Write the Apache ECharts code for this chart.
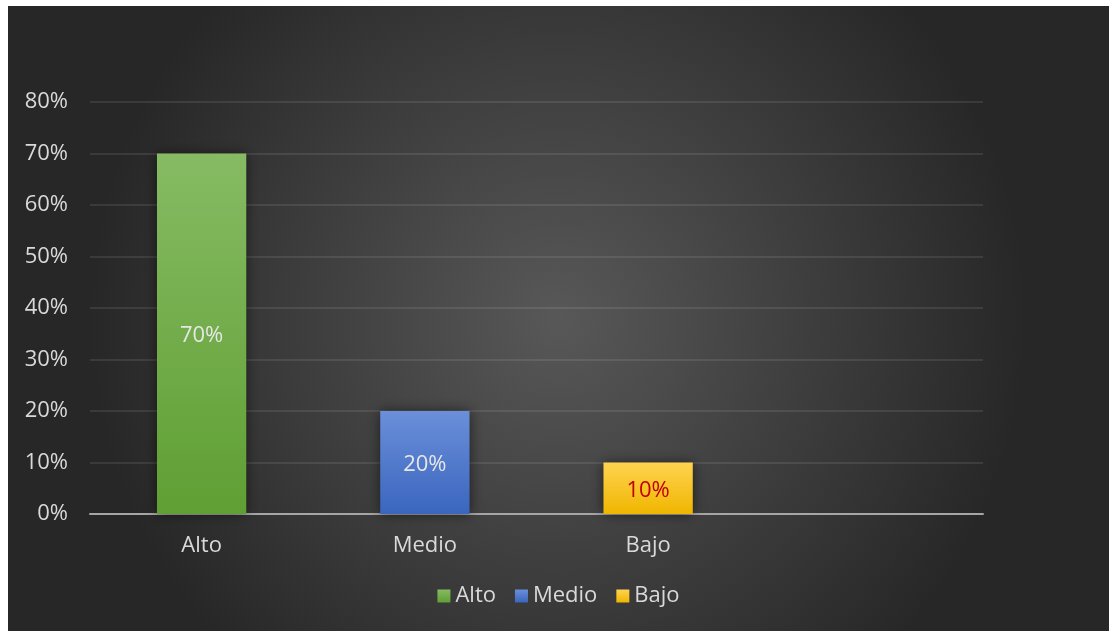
<!DOCTYPE html>
<html>
<head>
<meta charset="utf-8">
<script src="https://cdn.jsdelivr.net/npm/echarts@6/dist/echarts.min.js"></script>
<style>
  html, body { margin: 0; padding: 0; background: #ffffff; }
  #frame { position: absolute; left: 8px; top: 6px; width: 1101px; height: 625px; }
  #chart { width: 1101px; height: 625px; }
</style>
</head>
<body>
<div id="frame"><div id="chart"></div></div>
<script>
// Categories on the x axis (the fourth slot is left empty)
const categories = ['Alto', 'Medio', 'Bajo', ''];
// Series names and their share values
const seriesNames = ['Alto', 'Medio', 'Bajo'];
const altoValues  = [0.70, null, null, null];
const medioValues = [null, 0.20, null, null];
const bajoValues  = [null, null, 0.10, null];
// Y axis range
const yMin = 0, yMax = 0.8, yStep = 0.1;

const FONT = 'Open Sans';
const FS = 22;
const textColor = '#d9d9d9';

function grad(top, bottom) {
  return new echarts.graphic.LinearGradient(0, 0, 0, 1, [
    { offset: 0, color: top }, { offset: 1, color: bottom }
  ]);
}

function pct(v) { return Math.round(v * 100) + '%'; }

function barSeries(name, data, topCol, botCol, labelColor) {
  return {
    name: name,
    type: 'bar',
    stack: 'one',
    data: data,
    barWidth: '40%',
    itemStyle: {
      color: grad(topCol, botCol),
      shadowColor: 'rgba(0,0,0,0.55)',
      shadowBlur: 12
    },
    label: {
      show: true,
      position: 'inside',
      color: labelColor,
      fontFamily: FONT,
      fontSize: FS,
      offset: [0, 2],
      formatter: p => (p.value == null ? '' : pct(p.value))
    }
  };
}

const chart = echarts.init(document.getElementById('chart'), null, { renderer: 'canvas' });
chart.setOption({
  backgroundColor: new echarts.graphic.RadialGradient(0.5, 0.5, 0.75, [
    { offset: 0, color: '#585858' },
    { offset: 1, color: '#272727' }
  ]),
  animation: false,
  textStyle: { fontFamily: FONT },
  grid: { left: 82, right: 126, top: 96, bottom: 117, containLabel: false },
  legend: {
    data: seriesNames,
    bottom: 19,
    left: 'center',
    padding: [5, 0, 5, 12],
    itemWidth: 13,
    itemHeight: 13,
    itemGap: 19,
    icon: 'rect',
    textStyle: { color: textColor, fontSize: FS, fontFamily: FONT }
  },
  xAxis: {
    type: 'category',
    data: categories,
    axisTick: { show: false },
    axisLine: { lineStyle: { color: '#a6a6a6', width: 2 } },
    axisLabel: { color: textColor, fontSize: FS, fontFamily: FONT, margin: 21 }
  },
  yAxis: {
    type: 'value',
    min: yMin, max: yMax, interval: yStep,
    axisLine: { show: false },
    axisTick: { show: false },
    splitLine: { lineStyle: { color: 'rgba(255,255,255,0.12)', width: 1.5 } },
    axisLabel: { color: textColor, fontSize: FS, fontFamily: FONT, margin: 22, formatter: v => pct(v) }
  },
  series: [
    barSeries('Alto', altoValues, '#86bb63', '#5f9f33', '#e6e6e6'),
    barSeries('Medio', medioValues, '#6b8fd9', '#3a66bf', '#e6e6e6'),
    barSeries('Bajo', bajoValues, '#ffd350', '#efb600', '#c00000')
  ]
});
</script>
</body>
</html>
